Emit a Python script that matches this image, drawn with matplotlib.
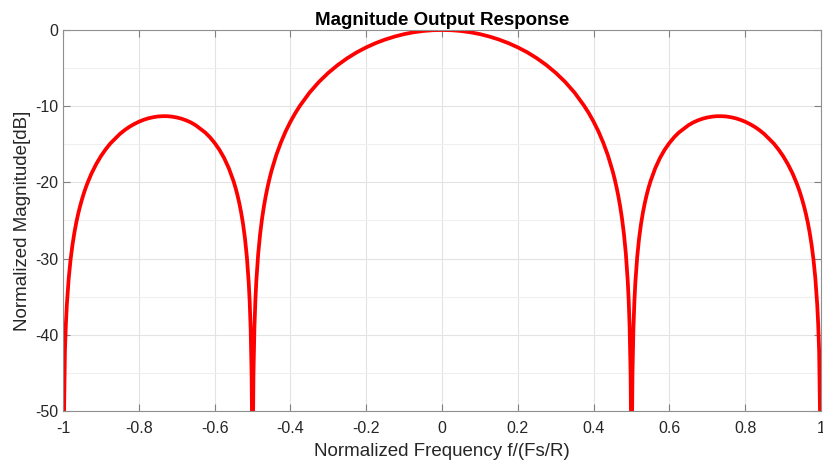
import numpy as np
from matplotlib import pyplot as plt

plt.rcParams['font.family'] = ['Liberation Sans', 'DejaVu Sans']
plt.rcParams['axes.unicode_minus'] = False

# magnitude for f >= 0 (curve is symmetric about f = 0)
freq_pos = [0.0, 0.025, 0.05, 0.075, 0.1, 0.125, 0.15, 0.175, 0.2, 0.225,
            0.25, 0.275, 0.3, 0.325, 0.35, 0.375, 0.3875, 0.4, 0.4125, 0.425,
            0.4375, 0.45, 0.455, 0.46, 0.465, 0.47, 0.475, 0.48, 0.485, 0.49,
            0.4925, 0.495, 0.4975, 0.499, 0.5, 0.501, 0.5025, 0.505, 0.5075, 0.51,
            0.515, 0.52, 0.525, 0.53, 0.535, 0.54, 0.545, 0.55, 0.5625, 0.575,
            0.5875, 0.6, 0.6125, 0.625, 0.6375, 0.65, 0.6625, 0.675, 0.6875, 0.7,
            0.7125, 0.725, 0.7375, 0.75, 0.7625, 0.775, 0.7875, 0.8, 0.8125, 0.825,
            0.8375, 0.85, 0.8625, 0.875, 0.8875, 0.9, 0.9125, 0.925, 0.935, 0.94,
            0.945, 0.95, 0.955, 0.96, 0.965, 0.97, 0.975, 0.98, 0.985, 0.99,
            0.9925, 0.995, 0.999, 1.0]
mag_pos = [0.0, -0.03, -0.13, -0.30, -0.54, -0.86, -1.25, -1.72, -2.28, -2.93,
           -3.70, -4.59, -5.62, -6.82, -8.24, -9.95, -10.93, -12.04, -13.29, -14.74,
           -16.43, -18.49, -19.46, -20.54, -21.75, -23.15, -24.79, -26.79, -29.35, -32.93,
           -35.47, -39.02, -45.07, -53.05, -70.0, -53.08, -45.14, -39.16, -35.67, -33.21,
           -29.76, -27.33, -25.47, -23.97, -22.71, -21.63, -20.69, -19.86, -18.15, -16.80,
           -15.71, -14.82, -14.07, -13.45, -12.97, -12.50, -12.14, -11.86, -11.64, -11.48,
           -11.37, -11.31, -11.31, -11.35, -11.45, -11.59, -11.79, -12.04, -12.35, -12.71,
           -13.14, -13.64, -14.26, -14.88, -15.66, -16.55, -17.60, -18.84, -20.02, -20.68,
           -21.41, -22.22, -23.11, -24.11, -25.25, -26.58, -28.15, -30.08, -32.57, -36.08,
           -38.58, -42.10, -56.08, -70.0]

freq = np.concatenate([-np.array(freq_pos[:0:-1]), freq_pos])
mag = np.concatenate([np.array(mag_pos[:0:-1]), mag_pos])

xticks = [-1, -0.8, -0.6, -0.4, -0.2, 0, 0.2, 0.4, 0.6, 0.8, 1]
xticklabels = ['-1', '-0.8', '-0.6', '-0.4', '-0.2', '0', '0.2', '0.4', '0.6', '0.8', '1']
yticks = [-50, -40, -30, -20, -10, 0]

fig = plt.figure(figsize=(8.23, 4.68), dpi=100)
ax = fig.add_axes([0.0766, 0.1218, 0.921, 0.8141])
ax.plot(freq, mag, color='red', lw=2.7, solid_joinstyle='round')

ax.set_xlim(-1, 1)
ax.set_ylim(-50, 0)
ax.set_xticks(xticks)
ax.set_xticklabels(xticklabels)
ax.set_yticks(yticks)
ax.set_yticks(np.arange(-45, 0, 10), minor=True)
ax.grid(True, which='major', color='#e3e3e3', lw=0.8)
ax.grid(True, which='minor', color='#efefef', lw=0.8)
ax.set_axisbelow(True)
ax.tick_params(which='major', direction='in', top=True, right=True, length=5,
               width=0.8, color='#808080', labelsize=11.5, labelcolor='#262626')
ax.tick_params(axis='x', pad=7.5)
ax.tick_params(axis='y', pad=3.5)
ax.tick_params(which='minor', length=0)
for s in ax.spines.values():
    s.set_color('#909090')
    s.set_linewidth(0.8)

ax.set_title('Magnitude Output Response', fontsize=13.5, fontweight='bold', pad=3.5)
ax.set_xlabel('Normalized Frequency f/(Fs/R)', fontsize=13.5, color='#262626', labelpad=5)
ax.set_ylabel('Normalized Magnitude[dB]', fontsize=13.5, color='#262626', labelpad=3)

plt.savefig('out.png', dpi=100)
